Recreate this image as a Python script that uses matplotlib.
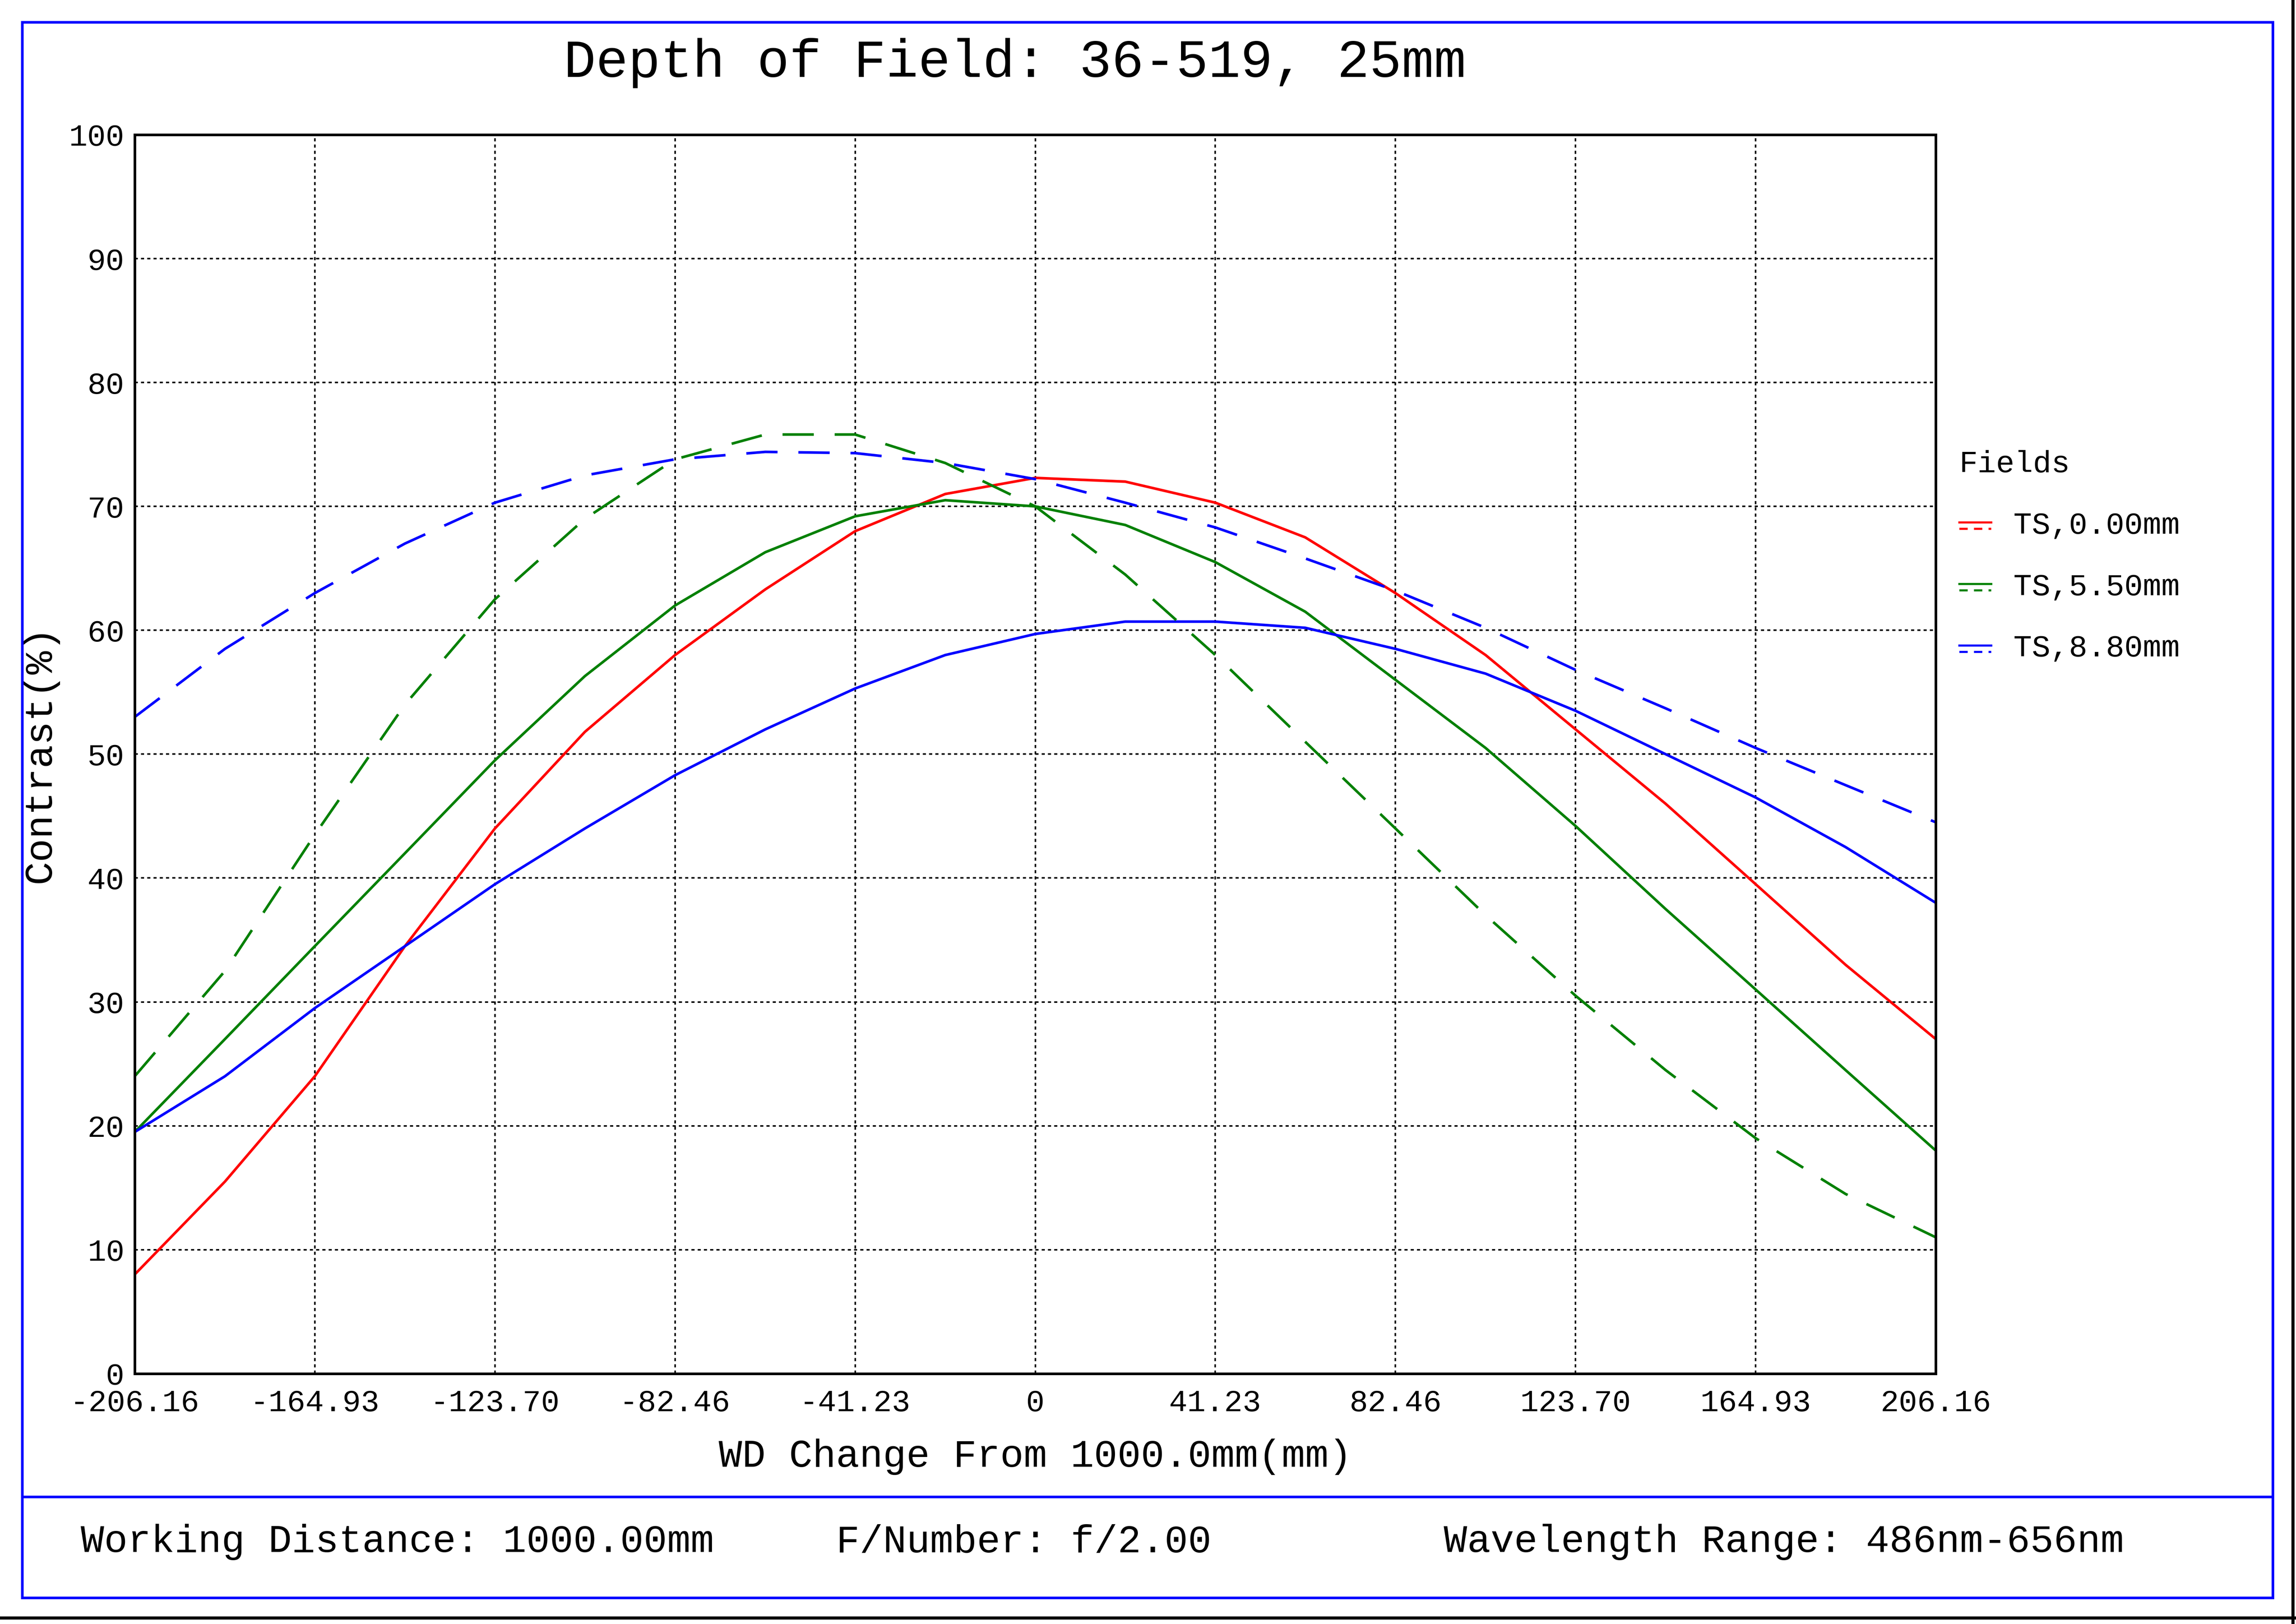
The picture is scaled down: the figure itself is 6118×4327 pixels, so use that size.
import matplotlib
matplotlib.use("Agg")
import matplotlib.pyplot as plt
from matplotlib.lines import Line2D
from matplotlib.patches import Rectangle

FONT = "Liberation Mono"
plt.rcParams["font.family"] = FONT

x_ticks = [-206.16, -164.93, -123.70, -82.46, -41.23, 0, 41.23, 82.46, 123.70, 164.93, 206.16]
x_tick_labels = ["-206.16", "-164.93", "-123.70", "-82.46", "-41.23", "0", "41.23", "82.46", "123.70", "164.93", "206.16"]
x = [-206.16, -185.5, -164.93, -144.3, -123.70, -103.1, -82.46, -61.8, -41.23, -20.6, 0,
     20.6, 41.23, 61.8, 82.46, 103.1, 123.70, 144.3, 164.93, 185.5, 206.16]

red_ts0 = [8, 15.5, 24, 34.5, 44, 51.8, 58, 63.3, 68, 71, 72.3, 72, 70.3, 67.5, 63, 58, 52, 46, 39.5, 33, 27]
green_ts55 = [19.5, 27, 34.5, 42, 49.5, 56.3, 62, 66.3, 69.2, 70.5, 70, 68.5, 65.5, 61.5, 56, 50.5, 44.2, 37.5, 31, 24.5, 18]
blue_ts88 = [19.5, 24, 29.5, 34.5, 39.5, 44, 48.3, 52, 55.3, 58, 59.7, 60.7, 60.7, 60.2, 58.5, 56.5, 53.5, 50, 46.5, 42.5, 38]
green_ts55_dash = [24, 32.5, 43.5, 54, 62.5, 69, 73.8, 75.8, 75.8, 73.5, 70, 64.5, 58, 51, 44, 37, 30.5, 24.5, 19, 14.5, 11]
blue_ts88_dash = [53, 58.5, 63, 67, 70.3, 72.5, 73.8, 74.4, 74.3, 73.5, 72.2, 70.3, 68.3, 65.8, 63.2, 60.2, 56.8, 53.7, 50.5, 47.5, 44.5]

legend_labels = ["TS,0.00mm", "TS,5.50mm", "TS,8.80mm"]
legend_colors = ["red", "green", "blue"]

W, H = 1568, 1109
fig = plt.figure(figsize=(61.18, 43.27), dpi=100)
ax = fig.add_axes([92/W, 1-938/H, (1322-92)/W, (938-92)/H])
lw = 5
ax.plot(x, red_ts0, color="red", lw=lw)
ax.plot(x, green_ts55, color="green", lw=lw)
ax.plot(x, blue_ts88, color="blue", lw=lw)
ax.plot(x, green_ts55_dash, color="green", lw=lw, dashes=(12, 8))
ax.plot(x, blue_ts88_dash, color="blue", lw=lw, dashes=(12, 8))
ax.set_xlim(-206.16, 206.16)
ax.set_ylim(0, 100)
ax.set_xticks(x_ticks)
ax.set_xticklabels(x_tick_labels)
ax.set_yticks(range(0, 101, 10))
ax.grid(True, color="black", linestyle=(0, (2, 2)), lw=3)
ax.tick_params(labelsize=59, length=0)
ax.tick_params(axis="x", pad=30)
ax.tick_params(axis="y", pad=20)
for s in ax.spines.values():
    s.set_linewidth(5)
ax.set_xlabel("WD Change From 1000.0mm(mm)", fontsize=75, labelpad=40)
ax.set_ylabel("Contrast(%)", fontsize=75, labelpad=20)

fig.text(693/W, 1-43/H, "Depth of Field: 36-519, 25mm", fontsize=103, ha="center", va="center")

fig.text(1338/W, 1-317/H, "Fields", fontsize=59, va="center")
for i, (lab, c) in enumerate(zip(legend_labels, legend_colors)):
    yy = 1 - (359 + 42*i)/H
    fig.add_artist(Line2D([1338/W, 1360/W], [yy+0.002, yy+0.002], color=c, lw=4))
    fig.add_artist(Line2D([1338/W, 1360/W], [yy-0.002, yy-0.002], color=c, lw=4, dashes=(4, 3)))
    fig.text(1375/W, yy, lab, fontsize=59, va="center")

fig.add_artist(Rectangle((15/W, 1-1091/H), (1552-15)/W, (1091-15)/H, fill=False, ec="blue", lw=5, transform=fig.transFigure))
fig.add_artist(Line2D([15/W, 1552/W], [1-1022/H, 1-1022/H], color="blue", lw=5))
fig.add_artist(Line2D([0, 1], [1-1105/H, 1-1105/H], color="black", lw=6))
fig.add_artist(Line2D([1-2/W, 1-2/W], [0, 1], color="black", lw=6))

by = 1 - 1053/H
fig.text(55/W, by, "Working Distance: 1000.00mm", fontsize=75, va="center")
fig.text(571/W, by, "F/Number: f/2.00", fontsize=75, va="center")
fig.text(986/W, by, "Wavelength Range: 486nm-656nm", fontsize=75, va="center")

fig.savefig("out.png", dpi=100, facecolor="white")
